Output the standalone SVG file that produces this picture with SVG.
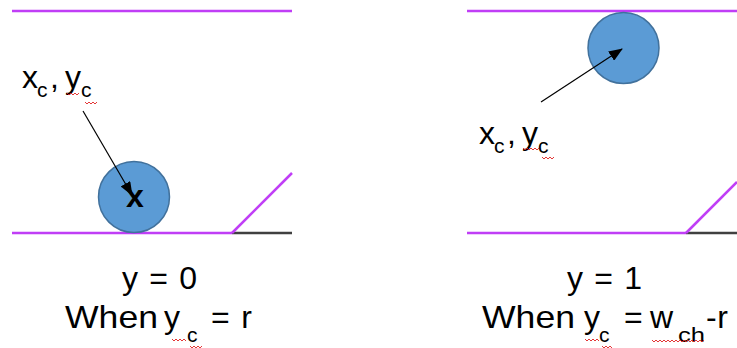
<svg xmlns="http://www.w3.org/2000/svg" width="737" height="348" viewBox="0 0 737 348">
<style>
.wall{stroke:#C03EF6;stroke-width:2.5;fill:none}
.floor{stroke:#404040;stroke-width:2.5;fill:none}
.ball{fill:#5B9BD5;stroke:#41719C;stroke-width:1.5}
.t{font-family:"Liberation Sans",Arial,sans-serif;font-size:32px;fill:#000}
.s{font-family:"Liberation Sans",Arial,sans-serif;font-size:21px;fill:#000}
.sq{stroke:#E02020;stroke-width:0.9;fill:none}
.arr{stroke:#000;stroke-width:1.2;fill:none;marker-end:url(#ah)}
</style>
<defs>
<marker id="ah" viewBox="0 0 14 11" refX="13" refY="5.5" markerWidth="14" markerHeight="11" markerUnits="userSpaceOnUse" orient="auto">
<path d="M0,0 L14,5.5 L0,11 z" fill="#000"/>
</marker>
</defs>
<rect width="737" height="348" fill="#fff"/>
<g id="channel-left">
<line class="wall" x1="12" y1="11" x2="292" y2="11"/>
<line class="wall" x1="12" y1="233" x2="232" y2="233"/>
<line class="floor" x1="232" y1="233" x2="292" y2="233"/>
<line class="wall" x1="232" y1="233" x2="292" y2="173"/>
</g>
<g id="channel-right">
<line class="wall" x1="467" y1="11" x2="737" y2="11"/>
<line class="wall" x1="467" y1="233" x2="686" y2="233"/>
<line class="floor" x1="686" y1="233" x2="737" y2="233"/>
<line class="wall" x1="686" y1="233" x2="737" y2="182"/>
</g>
<g id="ball-left">
<circle class="ball" cx="134" cy="197" r="35.5"/>
<text class="t" x="135" y="207" text-anchor="middle" font-weight="bold" font-size="32">x</text>
</g>
<g id="ball-right">
<circle class="ball" cx="623.5" cy="48" r="35.5"/>
</g>
<g id="label-left">
<text class="t" x="22" y="88" font-size="31">x</text>
<text class="s" x="37" y="97">c</text>
<text class="t" x="50" y="88" font-size="31">,</text>
<text class="t" x="65" y="88" font-size="31">y</text>
<text class="s" x="81" y="97">c</text>
<polyline class="sq" points="67,93 69,95 71,93 73,95 75,93 77,95 79,93"/>
<polyline class="sq" points="85,102 87,104 89,102 91,104 93,102 95,104 97,102"/>
</g>
<g id="label-right">
<text class="t" x="479" y="144" font-size="31">x</text>
<text class="s" x="494" y="153">c</text>
<text class="t" x="507" y="144" font-size="31">,</text>
<text class="t" x="522" y="144" font-size="31">y</text>
<text class="s" x="538" y="153">c</text>
<polyline class="sq" points="523,148 525,150 527,148 529,150 531,148 533,150 535,148 537,150 539,148"/>
<polyline class="sq" points="542,157 544,159 546,157 548,159 550,157 552,159 554,157"/>
</g>
<g id="connectors">
<line class="arr" x1="83" y1="111" x2="132" y2="195"/>
<line class="arr" x1="541" y1="102" x2="622" y2="49"/>
</g>
<g id="caption-left">
<text class="t" x="122" y="289" textLength="75" lengthAdjust="spacing">y = 0</text>
<text class="t" x="65" y="328" textLength="93" lengthAdjust="spacingAndGlyphs">When</text>
<text class="t" x="164" y="328">y</text>
<text class="s" x="187" y="342">c</text>
<text class="t" x="211" y="328" textLength="41" lengthAdjust="spacing">= r</text>
<polyline class="sq" points="172,339 174,341 176,339 178,341 180,339 182,341 184,339 186,341"/>
<polyline class="sq" points="190,346 192,348 194,346 196,348 198,346 200,348 202,346"/>
</g>
<g id="caption-right">
<text class="t" x="567" y="289" textLength="75" lengthAdjust="spacing">y = 1</text>
<text class="t" x="482" y="328" textLength="93" lengthAdjust="spacingAndGlyphs">When</text>
<text class="t" x="584" y="328">y</text>
<text class="s" x="599" y="342">c</text>
<text class="t" x="624" y="328">=</text>
<text class="t" x="650" y="328">w</text>
<text class="s" x="678" y="342" textLength="27" lengthAdjust="spacingAndGlyphs">ch</text>
<text class="t" x="706" y="328" textLength="22" lengthAdjust="spacing">-r</text>
<polyline class="sq" points="585,339 587,341 589,339 591,341 593,339 595,341 597,339 599,341"/>
<polyline class="sq" points="602,346 604,348 606,346 608,348 610,346 612,348"/>
<polyline class="sq" points="652,340 654,342 656,340 658,342 660,340 662,342 664,340 666,342 668,340 670,342 672,340 674,342 676,340 678,342 680,340 682,342 684,340 686,342 688,340 690,342 692,340 694,342 696,340 698,342 700,340 702,342 704,340"/>
</g>
</svg>
